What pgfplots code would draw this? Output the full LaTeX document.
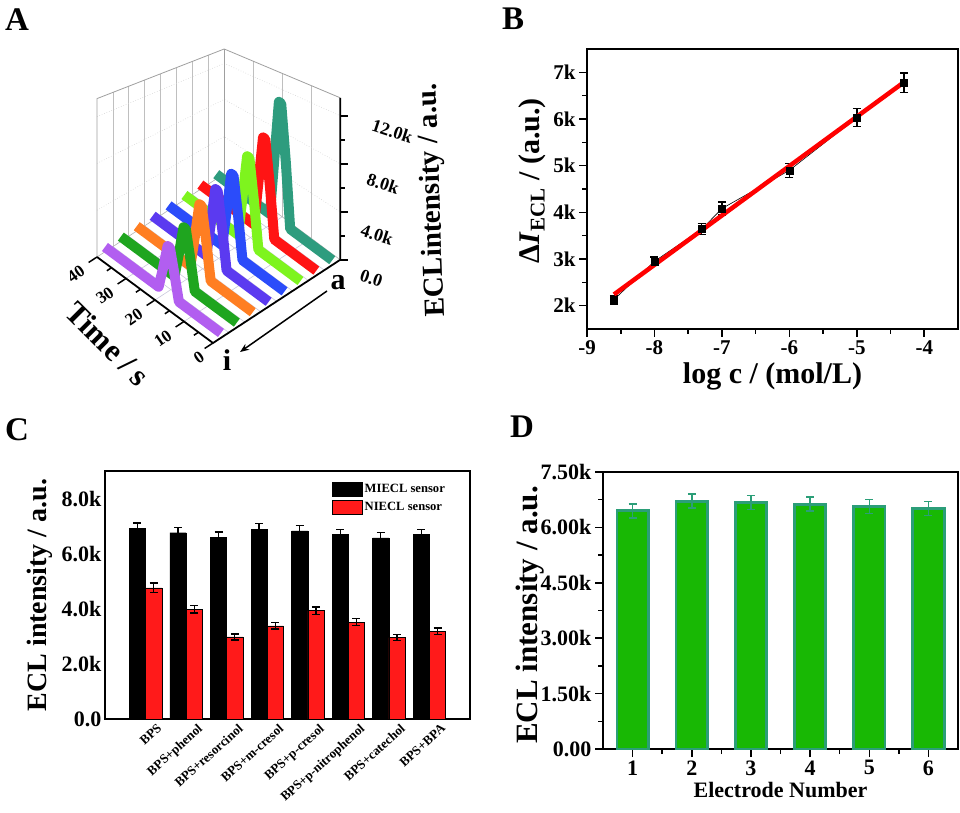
\documentclass[border=0pt]{standalone}
\usepackage{fontspec}
\setmainfont{Liberation Serif}
\usepackage{pgfplots}
\pgfplotsset{compat=1.18}
\usetikzlibrary{arrows.meta}

\definecolor{aPurple}{HTML}{B25EF0}
\definecolor{aGreen}{HTML}{1FA51F}
\definecolor{aOrange}{HTML}{FF7E22}
\definecolor{aIndigo}{HTML}{5B3AF0}
\definecolor{aBlue}{HTML}{2B4CFA}
\definecolor{aLime}{HTML}{7EF41E}
\definecolor{aRed}{HTML}{FF1414}
\definecolor{aTeal}{HTML}{2E9C7E}
\definecolor{cRed}{HTML}{FF1A1A}
\definecolor{dGreen}{HTML}{18B804}
\definecolor{dTeal}{HTML}{2B9E78}

\newcommand{\fs}[1]{\fontsize{#1}{#1}\selectfont\bfseries}

\begin{document}
\begin{tikzpicture}[x=1pt,y=1pt]
\useasboundingbox (0,0) rectangle (960,812);

% ---------------- Panel A ----------------
\begin{axis}[at={(213pt,469pt)}, anchor=origin,
  x={(-2.9pt,2.15pt)}, y={(15.9pt,10.4pt)}, z={(0pt,12pt)},
  xmin=0,xmax=40,ymin=0,ymax=8,zmin=0,zmax=13.5,
  hide axis, clip=false]
% walls (tops lowered towards the back, as in the perspective of the reference)
\draw[gray!50, line width=0.7pt] (axis cs:40,1,0) -- (axis cs:40,1,12.85);
\draw[gray!50, line width=0.7pt] (axis cs:40,2,0) -- (axis cs:40,2,12.5);
\draw[gray!50, line width=0.7pt] (axis cs:40,3,0) -- (axis cs:40,3,12.15);
\draw[gray!50, line width=0.7pt] (axis cs:40,4,0) -- (axis cs:40,4,11.8);
\draw[gray!50, line width=0.7pt] (axis cs:40,5,0) -- (axis cs:40,5,11.45);
\draw[gray!50, line width=0.7pt] (axis cs:40,6,0) -- (axis cs:40,6,11.1);
\draw[gray!50, line width=0.7pt] (axis cs:40,7,0) -- (axis cs:40,7,10.75);
\draw[gray!50, line width=0.7pt] (axis cs:10,8,0) -- (axis cs:10,8,12.72);
\draw[gray!50, line width=0.7pt] (axis cs:20,8,0) -- (axis cs:20,8,11.95);
\draw[gray!50, line width=0.7pt] (axis cs:30,8,0) -- (axis cs:30,8,11.18);
\draw[gray!35, dotted, line width=0.6pt] (axis cs:40,0,3.9) -- (axis cs:40,8,3.1) -- (axis cs:0,8,4);
\draw[gray!35, dotted, line width=0.6pt] (axis cs:40,0,7.8) -- (axis cs:40,8,6.2) -- (axis cs:0,8,8);
\draw[gray!35, dotted, line width=0.6pt] (axis cs:40,0,11.7) -- (axis cs:40,8,9.2) -- (axis cs:0,8,12);
\pgfplotsinvokeforeach{10,20,30}{\draw[blue!20!gray!35, line width=0.6pt] (axis cs:#1,0,0) -- (axis cs:#1,8,0);}
\pgfplotsinvokeforeach{1,...,7}{\draw[blue!20!gray!35, line width=0.6pt] (axis cs:0,#1,0) -- (axis cs:40,#1,0);}
\draw[gray!75, line width=0.8pt] (axis cs:40,0,0) -- (axis cs:40,0,13.2) -- (axis cs:40,8,10.4) -- (axis cs:0,8,13.5);
\draw[gray!75, line width=0.8pt] (axis cs:40,8,0) -- (axis cs:40,8,10.4);
\draw[gray!60, line width=0.6pt] (axis cs:40,0,0) -- (axis cs:40,8,0) -- (axis cs:0,8,0);
% ribbons (back to front)
\addplot3[aTeal, line width=10pt, line join=round] coordinates {(0,7.5,0.4) (14.5,7.5,0.4) (16,7.5,5.67) (17.6,7.5,10.3) (18.4,7.5,10.3) (20,7.5,5.15) (21.5,7.5,0.4) (40,7.5,0.4)};
\addplot3[aRed, line width=10pt, line join=round] coordinates {(0,6.5,0.4) (14.5,6.5,0.4) (16,6.5,4.51) (17.6,6.5,8.2) (18.4,6.5,8.2) (20,6.5,4.1) (21.5,6.5,0.4) (40,6.5,0.4)};
\addplot3[aLime, line width=10pt, line join=round] coordinates {(0,5.5,0.4) (14.5,5.5,0.4) (16,5.5,4.13) (17.6,5.5,7.5) (18.4,5.5,7.5) (20,5.5,3.75) (21.5,5.5,0.4) (40,5.5,0.4)};
\addplot3[aBlue, line width=10pt, line join=round] coordinates {(0,4.5,0.4) (14.5,4.5,0.4) (16,4.5,3.8) (17.6,4.5,6.9) (18.4,4.5,6.9) (20,4.5,3.45) (21.5,4.5,0.4) (40,4.5,0.4)};
\addplot3[aIndigo, line width=10pt, line join=round] coordinates {(0,3.5,0.4) (14.5,3.5,0.4) (16,3.5,3.58) (17.6,3.5,6.5) (18.4,3.5,6.5) (20,3.5,3.25) (21.5,3.5,0.4) (40,3.5,0.4)};
\addplot3[aOrange, line width=10pt, line join=round] coordinates {(0,2.5,0.4) (14.5,2.5,0.4) (16,2.5,3.36) (17.6,2.5,6.1) (18.4,2.5,6.1) (20,2.5,3.05) (21.5,2.5,0.4) (40,2.5,0.4)};
\addplot3[aGreen, line width=10pt, line join=round] coordinates {(0,1.5,0.4) (14.5,1.5,0.4) (16,1.5,2.78) (17.6,1.5,5.05) (18.4,1.5,5.05) (20,1.5,2.53) (21.5,1.5,0.4) (40,1.5,0.4)};
\addplot3[aPurple, line width=10pt, line join=round] coordinates {(0,0.5,0.4) (14.5,0.5,0.4) (16,0.5,2.39) (17.6,0.5,4.35) (18.4,0.5,4.35) (20,0.5,2.18) (21.5,0.5,0.4) (40,0.5,0.4)};
% axes
\draw[black, line width=1.8pt] (axis cs:40,0,0) -- (axis cs:0,0,0) -- (axis cs:0,8,0) -- (axis cs:0,8,13.5);
\pgfplotsinvokeforeach{0,5,...,40}{\coordinate (T#1) at (axis cs:#1,0,0);}
\pgfplotsinvokeforeach{0,2,...,12}{\coordinate (Z#1) at (axis cs:0,8,#1);}
\end{axis}
% A: ticks and labels
\foreach \t in {0,10,20,30,40} {\draw[line width=1.5pt] (T\t) -- ++(-8.4,-5.5);}
\foreach \t in {5,15,25,35} {\draw[line width=1.5pt] (T\t) -- ++(-4.6,-3);}
\foreach \t in {10,20,30,40} {\node[font=\fs{17}, xshift=-21pt, yshift=-17pt, rotate=35] at (T\t) {\t};}
\node[font=\fs{17}, xshift=-14pt, yshift=-15pt, rotate=35] at (T0) {0};
\foreach \z in {0,4,8,12} {\draw[line width=1.5pt] (Z\z) -- ++(8,0);}
\foreach \z in {2,6,10} {\draw[line width=1.5pt] (Z\z) -- ++(4.5,0);}
\node[font=\fs{18}, anchor=west, xshift=17pt, yshift=-14pt, rotate=-18] at (Z0) {0.0};
\node[font=\fs{18}, anchor=west, xshift=18pt, yshift=-17pt, rotate=-18] at (Z4) {4.0k};
\node[font=\fs{18}, anchor=west, xshift=24pt, yshift=-14pt, rotate=-18] at (Z8) {8.0k};
\node[font=\fs{18}, anchor=west, xshift=29pt, yshift=-8pt, rotate=-18] at (Z12) {12.0k};
\node[rotate=92, font=\fs{29}] at (433,612) {ECLintensity / a.u.};
\node[rotate=-45, font=\fs{31}] at (108,468) {Time / s};
\node[font=\fs{30}] at (338,529) {a};
\node[font=\fs{30}] at (227,452) {i};
\draw[-{Stealth[length=9pt,width=7pt]}, line width=1.5pt] (327,521) -- (240,460);

% ---------------- Panel B ----------------
\begin{axis}[at={(587pt,483pt)}, anchor=south west, width=371pt, height=280pt, scale only axis,
  xmin=-9, xmax=-3.5, ymin=1500, ymax=7500,
  xtick={-9,-8,...,-4}, minor x tick num=1,
  ytick={2000,3000,...,7000}, yticklabels={2k,3k,4k,5k,6k,7k}, minor y tick num=1,
  tick pos=left, tick align=outside, major tick length=8pt, minor tick length=5pt,
  every tick/.append style={black, line width=1.6pt},
  axis line style={line width=2.5pt},
  tick label style={font=\fs{21}}, /pgf/number format/assume math mode=true,
  xlabel={log c / (mol/L)},
  xlabel style={font=\fs{30}, at={(axis description cs:0.5,-0.171)}, anchor=center},
  ylabel={Δ\textit{I}\textsubscript{ECL} / (a.u.)},
  ylabel style={font=\fs{30}, at={(axis description cs:-0.148,0.53)}, anchor=center},
]
\addplot[black, line width=0.6pt, mark=square*, mark size=3.5pt,
  error bars/.cd, y dir=both, y explicit,
  error bar style={line width=1.5pt},
  error mark options={rotate=90, mark size=4pt, line width=1.5pt}]
  coordinates {(-8.6,2130) +- (0,90) (-8,2950) +- (0,90) (-7.3,3640) +- (0,120) (-7,4080) +- (0,140) (-6,4900) +- (0,150) (-5,6030) +- (0,190) (-4.3,6780) +- (0,210)};
\addplot[red, line width=4.5pt] coordinates {(-8.6,2240) (-4.3,6790)};
\end{axis}

% ---------------- Panel C ----------------
\begin{axis}[at={(105pt,93pt)}, anchor=south west, width=365pt, height=248pt, scale only axis,
  xmin=0, xmax=9, ymin=0, ymax=9000,
  xtick={1,...,8},
  xticklabels={BPS,BPS+phenol,BPS+resorcinol,BPS+m-cresol,BPS+p-cresol,BPS+p-nitrophenol,BPS+catechol,BPS+BPA},
  ytick={0,2000,...,8000}, yticklabels={0.0,2.0k,4.0k,6.0k,8.0k},
  tick pos=left, major tick length=0pt,
  axis line style={line width=2.5pt},
  yticklabel style={font=\fs{22}},
  xticklabel style={font=\fs{13}, inner sep=0pt, xshift=11pt, yshift=-4pt, rotate=42, anchor=north east},
  ylabel={ECL intensity / a.u.},
  ylabel style={font=\fs{28}, at={(axis description cs:-0.178,0.5)}, anchor=center},
  legend style={draw=none, fill=none, at={(0.622,0.956)}, anchor=north west, font=\fs{12.6}, inner sep=0pt, row sep=3pt},
  legend cell align=left,
]
\addplot[ybar, bar width=0.4, bar shift=0, fill=black, draw=black,
  legend image code/.code={\draw[fill=black,draw=black] (0pt,-7pt) rectangle (30pt,7pt);},
  error bars/.cd, y dir=both, y explicit,
  error bar style={black, line width=1.4pt},
  error mark options={rotate=90, mark size=4pt, line width=1.4pt, black}]
  coordinates {(0.8,6910) +- (0,200) (1.8,6760) +- (0,190) (2.8,6600) +- (0,190) (3.8,6890) +- (0,200) (4.8,6830) +- (0,200) (5.8,6690) +- (0,190) (6.8,6570) +- (0,190) (7.8,6690) +- (0,190)};
\addlegendentry{MIECL sensor}
\addplot[ybar, bar width=0.4, bar shift=0, fill=cRed, draw=black, line width=0.5pt,
  legend image code/.code={\draw[fill=cRed,draw=black] (0pt,-7pt) rectangle (30pt,7pt);},
  error bars/.cd, y dir=both, y explicit,
  error bar style={black, line width=1.4pt},
  error mark options={rotate=90, mark size=4pt, line width=1.4pt, black}]
  coordinates {(1.2,4760) +- (0,170) (2.2,3990) +- (0,140) (3.2,2980) +- (0,110) (4.2,3380) +- (0,120) (5.2,3930) +- (0,140) (6.2,3520) +- (0,130) (7.2,2950) +- (0,110) (8.2,3180) +- (0,120)};
\addlegendentry{NIECL sensor}
\end{axis}

% ---------------- Panel D ----------------
\begin{axis}[at={(603pt,63pt)}, anchor=south west, width=355pt, height=277pt, scale only axis,
  xmin=0.5, xmax=6.5, ymin=0, ymax=7500,
  xtick={1,...,6}, minor x tick num=1,
  ytick={0,1500,...,7500}, yticklabels={0.00,1.50k,3.00k,4.50k,6.00k,7.50k}, minor y tick num=1,
  tick pos=left, tick align=outside, major tick length=8pt, minor tick length=5pt,
  every tick/.append style={black, line width=1.5pt},
  axis line style={line width=2.5pt},
  tick label style={font=\fs{22}}, /pgf/number format/assume math mode=true,
  xlabel={Electrode Number},
  xlabel style={font=\fs{22}, at={(axis description cs:0.5,-0.148)}, anchor=center},
  ylabel={ECL intensity / a.u.},
  ylabel style={font=\fs{31}, at={(axis description cs:-0.206,0.484)}, anchor=center},
]
\addplot[ybar, bar width=0.53, fill=dGreen, draw=dTeal, line width=2.8pt,
  error bars/.cd, y dir=both, y explicit,
  error bar style={dTeal, line width=1.5pt},
  error mark options={rotate=90, mark size=4pt, line width=1.5pt, dTeal}]
  coordinates {(1,6450) +- (0,190) (2,6710) +- (0,190) (3,6680) +- (0,190) (4,6630) +- (0,190) (5,6560) +- (0,190) (6,6510) +- (0,190)};
\end{axis}

% panel letters
\node[font=\fs{33}] at (17,792) {A};
\node[font=\fs{33}] at (513,793) {B};
\node[font=\fs{33}] at (17,382) {C};
\node[font=\fs{33}] at (522,385) {D};
\end{tikzpicture}
\end{document}
